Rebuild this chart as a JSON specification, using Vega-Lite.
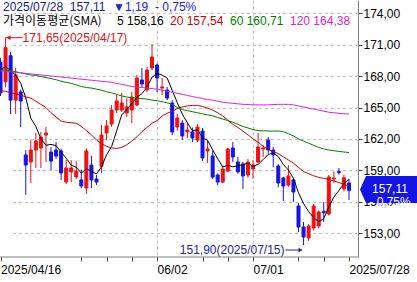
{
"$schema": "https://vega.github.io/schema/vega-lite/v6.json",
"width": 358,
"height": 257,
"autosize": {"type": "none"},
"padding": {"left": 0, "top": 0, "right": 59, "bottom": 25},
"background": "#ffffff",
"datasets": {
"k": [
{"d":"2025-04-16","o":169.3,"h":169.7,"l":166.1,"c":166.4,"m5":168.6,"m20":166.6,"m60":168.6,"m120":168.5},
{"d":"2025-04-17","o":167.46,"h":171.65,"l":166.9,"c":170.7,"m5":168.9,"m20":166.55,"m60":168.55,"m120":168.45},
{"d":"2025-04-18","o":169.93,"h":170.3,"l":164.38,"c":165.71,"m5":168.5,"m20":166.4,"m60":168.5,"m120":168.4},
{"d":"2025-04-21","o":165.71,"h":168.76,"l":164.4,"c":168.1,"m5":168.1,"m20":166.3,"m60":168.4,"m120":168.35},
{"d":"2025-04-22","o":166.48,"h":166.7,"l":163.14,"c":165.62,"m5":167.31,"m20":166.2,"m60":168.3,"m120":168.3},
{"d":"2025-04-23","o":160.48,"h":160.95,"l":156.67,"c":159.52,"m5":165.93,"m20":166.0,"m60":168.2,"m120":168.25},
{"d":"2025-04-24","o":159.81,"h":161.9,"l":157.8,"c":160.95,"m5":163.98,"m20":165.9,"m60":168.1,"m120":168.2},
{"d":"2025-04-25","o":160.95,"h":162.57,"l":159.24,"c":161.81,"m5":163.2,"m20":165.6,"m60":168.05,"m120":168.15},
{"d":"2025-04-28","o":161.14,"h":162.67,"l":159.24,"c":162.19,"m5":162.02,"m20":165.3,"m60":167.95,"m120":168.1},
{"d":"2025-04-29","o":162.38,"h":163.14,"l":159.81,"c":162.57,"m5":161.41,"m20":165.0,"m60":167.85,"m120":168.05},
{"d":"2025-04-30","o":160.76,"h":161.24,"l":159.05,"c":159.9,"m5":161.48,"m20":164.5,"m60":167.75,"m120":168.0},
{"d":"2025-05-01","o":160.95,"h":161.7,"l":160.1,"c":160.38,"m5":161.37,"m20":164.1,"m60":167.65,"m120":167.95},
{"d":"2025-05-02","o":160.86,"h":161.1,"l":158.1,"c":158.76,"m5":160.76,"m20":163.7,"m60":167.5,"m120":167.9},
{"d":"2025-05-07","o":157.9,"h":160.0,"l":157.7,"c":159.24,"m5":160.17,"m20":163.6,"m60":167.4,"m120":167.85},
{"d":"2025-05-08","o":158.86,"h":160.0,"l":157.9,"c":159.24,"m5":159.5,"m20":163.55,"m60":167.3,"m120":167.8},
{"d":"2025-05-09","o":158.38,"h":159.9,"l":158.2,"c":158.95,"m5":159.31,"m20":163.5,"m60":167.15,"m120":167.75},
{"d":"2025-05-12","o":158.1,"h":159.1,"l":157.3,"c":157.52,"m5":158.74,"m20":163.2,"m60":167.0,"m120":167.7},
{"d":"2025-05-13","o":157.33,"h":161.1,"l":156.76,"c":160.86,"m5":159.16,"m20":162.8,"m60":166.9,"m120":167.65},
{"d":"2025-05-14","o":159.52,"h":160.4,"l":157.33,"c":158.1,"m5":158.93,"m20":162.4,"m60":166.85,"m120":167.6},
{"d":"2025-05-15","o":158.19,"h":158.57,"l":157.62,"c":157.9,"m5":158.67,"m20":161.9,"m60":166.75,"m120":167.55},
{"d":"2025-05-16","o":159.4,"h":163.33,"l":158.76,"c":162.38,"m5":159.35,"m20":161.55,"m60":166.65,"m120":167.5},
{"d":"2025-05-19","o":162.57,"h":163.81,"l":161.9,"c":163.24,"m5":160.5,"m20":161.3,"m60":166.5,"m120":167.45},
{"d":"2025-05-20","o":163.43,"h":165.24,"l":163.14,"c":164.76,"m5":161.28,"m20":161.15,"m60":166.4,"m120":167.4},
{"d":"2025-05-21","o":164.76,"h":166.19,"l":164.48,"c":165.62,"m5":162.78,"m20":161.1,"m60":166.25,"m120":167.3},
{"d":"2025-05-22","o":164.76,"h":166.38,"l":164.57,"c":165.43,"m5":164.29,"m20":161.2,"m60":166.1,"m120":167.2},
{"d":"2025-05-23","o":164.48,"h":165.9,"l":164.1,"c":165.05,"m5":164.82,"m20":161.45,"m60":166.0,"m120":167.1},
{"d":"2025-05-26","o":164.76,"h":166.48,"l":163.52,"c":166.0,"m5":165.37,"m20":161.8,"m60":165.95,"m120":167.0},
{"d":"2025-05-27","o":165.24,"h":168.1,"l":165.14,"c":167.81,"m5":165.98,"m20":162.2,"m60":165.9,"m120":166.95},
{"d":"2025-05-28","o":167.62,"h":168.76,"l":166.95,"c":167.24,"m5":166.31,"m20":162.7,"m60":165.85,"m120":166.9},
{"d":"2025-05-29","o":166.67,"h":168.86,"l":166.48,"c":168.57,"m5":166.93,"m20":163.1,"m60":165.8,"m120":166.85},
{"d":"2025-05-30","o":168.76,"h":171.05,"l":168.57,"c":169.81,"m5":167.89,"m20":163.5,"m60":165.7,"m120":166.8},
{"d":"2025-06-02","o":169.05,"h":169.2,"l":166.48,"c":167.81,"m5":168.25,"m20":163.75,"m60":165.65,"m120":166.75},
{"d":"2025-06-04","o":166.86,"h":167.81,"l":166.19,"c":166.95,"m5":168.08,"m20":164.2,"m60":165.55,"m120":166.65},
{"d":"2025-06-05","o":166.67,"h":166.95,"l":165.7,"c":165.9,"m5":167.81,"m20":164.45,"m60":165.45,"m120":166.55},
{"d":"2025-06-09","o":165.43,"h":165.7,"l":162.38,"c":162.67,"m5":166.63,"m20":164.65,"m60":165.3,"m120":166.45},
{"d":"2025-06-10","o":163.14,"h":164.4,"l":162.8,"c":164.0,"m5":165.47,"m20":164.9,"m60":165.0,"m120":166.35},
{"d":"2025-06-11","o":163.52,"h":163.8,"l":161.9,"c":162.29,"m5":164.36,"m20":165.05,"m60":164.8,"m120":166.25},
{"d":"2025-06-12","o":162.67,"h":163.52,"l":162.1,"c":162.86,"m5":163.54,"m20":165.15,"m60":164.7,"m120":166.15},
{"d":"2025-06-13","o":162.67,"h":163.1,"l":161.7,"c":162.1,"m5":162.78,"m20":165.2,"m60":164.6,"m120":166.05},
{"d":"2025-06-16","o":161.9,"h":163.43,"l":161.7,"c":163.14,"m5":162.88,"m20":165.2,"m60":164.5,"m120":165.95},
{"d":"2025-06-17","o":162.76,"h":163.05,"l":159.9,"c":160.19,"m5":162.12,"m20":165.1,"m60":164.4,"m120":165.85},
{"d":"2025-06-18","o":160.86,"h":161.9,"l":159.71,"c":161.05,"m5":161.87,"m20":164.95,"m60":164.3,"m120":165.75},
{"d":"2025-06-19","o":160.38,"h":160.86,"l":158.2,"c":158.38,"m5":160.97,"m20":164.75,"m60":164.2,"m120":165.7},
{"d":"2025-06-20","o":158.57,"h":158.7,"l":157.62,"c":157.9,"m5":160.13,"m20":164.5,"m60":164.05,"m120":165.6},
{"d":"2025-06-23","o":157.9,"h":159.33,"l":157.8,"c":159.14,"m5":159.33,"m20":164.2,"m60":163.9,"m120":165.5},
{"d":"2025-06-24","o":158.95,"h":161.14,"l":158.86,"c":161.05,"m5":159.5,"m20":163.8,"m60":163.75,"m120":165.45},
{"d":"2025-06-25","o":161.14,"h":161.71,"l":159.81,"c":160.29,"m5":159.35,"m20":163.4,"m60":163.6,"m120":165.4},
{"d":"2025-06-26","o":159.81,"h":160.29,"l":158.7,"c":158.86,"m5":159.45,"m20":163.1,"m60":163.4,"m120":165.35},
{"d":"2025-06-27","o":159.62,"h":159.8,"l":157.24,"c":158.48,"m5":159.56,"m20":162.75,"m60":163.2,"m120":165.3},
{"d":"2025-06-30","o":158.57,"h":160.1,"l":158.3,"c":159.81,"m5":159.7,"m20":162.4,"m60":163.05,"m120":165.28},
{"d":"2025-07-01","o":159.14,"h":160.0,"l":158.2,"c":159.52,"m5":159.39,"m20":162.0,"m60":162.9,"m120":165.26},
{"d":"2025-07-02","o":159.81,"h":162.57,"l":159.7,"c":161.24,"m5":159.58,"m20":161.7,"m60":162.8,"m120":165.25},
{"d":"2025-07-03","o":161.05,"h":161.43,"l":160.29,"c":161.14,"m5":160.04,"m20":161.3,"m60":162.78,"m120":165.25},
{"d":"2025-07-04","o":161.9,"h":162.19,"l":160.6,"c":160.95,"m5":160.53,"m20":161.0,"m60":162.76,"m120":165.25},
{"d":"2025-07-07","o":160.95,"h":161.24,"l":159.3,"c":160.48,"m5":160.67,"m20":160.8,"m60":162.76,"m120":165.28},
{"d":"2025-07-08","o":159.43,"h":159.6,"l":157.4,"c":157.81,"m5":160.32,"m20":160.6,"m60":162.76,"m120":165.3},
{"d":"2025-07-09","o":158.29,"h":158.4,"l":156.1,"c":157.52,"m5":159.58,"m20":160.3,"m60":162.7,"m120":165.3},
{"d":"2025-07-10","o":157.62,"h":159.52,"l":157.43,"c":158.48,"m5":159.05,"m20":160.0,"m60":162.5,"m120":165.3},
{"d":"2025-07-11","o":158.1,"h":158.3,"l":156.0,"c":156.95,"m5":158.25,"m20":159.7,"m60":162.3,"m120":165.25},
{"d":"2025-07-14","o":155.62,"h":155.9,"l":153.14,"c":153.62,"m5":156.88,"m20":159.3,"m60":162.0,"m120":165.15},
{"d":"2025-07-15","o":153.62,"h":154.1,"l":151.9,"c":152.67,"m5":155.85,"m20":158.9,"m60":161.8,"m120":165.05},
{"d":"2025-07-16","o":152.57,"h":153.9,"l":152.3,"c":153.71,"m5":155.09,"m20":158.7,"m60":161.6,"m120":164.95},
{"d":"2025-07-17","o":153.52,"h":155.8,"l":153.3,"c":155.62,"m5":154.51,"m20":158.5,"m60":161.4,"m120":164.85},
{"d":"2025-07-18","o":153.71,"h":155.2,"l":153.5,"c":155.05,"m5":154.13,"m20":158.35,"m60":161.2,"m120":164.75},
{"d":"2025-07-21","o":155.1,"h":156.0,"l":154.1,"c":154.98,"m5":154.41,"m20":158.25,"m60":161.05,"m120":164.65},
{"d":"2025-07-22","o":154.86,"h":158.57,"l":154.7,"c":158.38,"m5":155.55,"m20":158.15,"m60":160.95,"m120":164.55},
{"d":"2025-07-23","o":158.2,"h":158.9,"l":157.8,"c":158.29,"m5":156.46,"m20":158.0,"m60":160.88,"m120":164.5},
{"d":"2025-07-24","o":158.9,"h":159.24,"l":158.6,"c":158.8,"m5":157.1,"m20":157.85,"m60":160.82,"m120":164.45},
{"d":"2025-07-25","o":157.24,"h":158.6,"l":157.0,"c":158.3,"m5":157.75,"m20":157.65,"m60":160.76,"m120":164.4},
{"d":"2025-07-28","o":157.81,"h":158.2,"l":156.19,"c":157.11,"m5":158.16,"m20":157.54,"m60":160.71,"m120":164.38}
],
"ann": [
{"k":"hi","d":"2025-04-17","p":171.65,"t":"171,65(2025/04/17)"},
{"k":"lo","d":"2025-07-15","p":151.9,"t":"151,90(2025/07/15)"},
{"k":"last","d":"2025-07-28","p":157.11,"t":"157,11\n- 0,75%"},
{"k":"head1","d":"2025-04-16","p":175.24,"t":"2025/07/28\u00a0\u00a0157,11"},
{"k":"head2","d":"2025-04-16","p":175.24,"t":"▼1,19\u00a0\u00a0-\u00a00,75%"}
]
},
"config": {
"view": {"stroke": null},
"font": "Liberation Sans",
"locale": {"number": {"decimal": ",", "thousands": ".", "grouping": [3], "currency": ["", ""]}},
"axis": {"labelFont": "Liberation Sans", "labelFontSize": 12, "labelColor": "#000000", "domainColor": "#808080", "tickColor": "#404040", "gridColor": "#c4c4c4", "gridDash": [3, 3], "gridWidth": 1, "labelOverlap": false}
},
"layer": [
{
"data": {"name": "k"},
"mark": {"type": "rule", "strokeWidth": 1},
"encoding": {
"x": {"field": "d", "type": "ordinal", "scale": {"type": "point", "range": [0.5, 349], "padding": 0},
"axis": {"values": ["2025-04-16","2025-05-12","2025-05-19","2025-05-26","2025-06-02","2025-06-17","2025-06-24","2025-07-01","2025-07-14","2025-07-21","2025-07-28"],
"labelExpr": "datum.value == '2025-04-16' ? '2025/04/16' : datum.value == '2025-06-02' ? '06/02' : datum.value == '2025-07-01' ? '07/01' : datum.value == '2025-07-28' ? '2025/07/28' : ''",
"labelAlign": "left", "labelPadding": 3, "tickSize": 4, "domain": false, "grid": true,
"gridOpacity": {"condition": {"test": "datum.value == '2025-06-02' || datum.value == '2025-07-01'", "value": 1}, "value": 0},
"labelOverlap": false, "labelBound": false, "labelFlush": false, "labelAngle": 0, "title": null}},
"y": {"field": "l", "type": "quantitative", "scale": {"domain": [150.76, 175.24], "zero": false, "nice": false},
"axis": {"orient": "right", "values": [153,156,159,162,165,168,171,174], "format": ".2f", "tickSize": 4, "grid": true, "labelPadding": 1, "labelOverlap": false, "labelFlush": false, "title": null}},
"y2": {"field": "h"},
"color": {"condition": {"test": "datum.c > datum.o", "value": "#f01010"}, "value": "#1414e6"}
}
},
{
"data": {"name": "k"},
"mark": {"type": "bar", "size": 3, "strokeWidth": 1},
"encoding": {
"x": {"field": "d", "type": "ordinal", "axis": {"title": null}},
"y": {"field": "o", "type": "quantitative", "scale": {"domain": [150.76, 175.24], "zero": false, "nice": false}, "axis": {"orient": "right", "values": [153,156,159,162,165,168,171,174], "format": ".2f", "tickSize": 4, "grid": true, "labelPadding": 1, "labelOverlap": false, "labelFlush": false, "title": null}},
"y2": {"field": "c"},
"color": {"condition": {"test": "datum.c > datum.o", "value": "#f01010"}, "value": "#1414e6"},
"stroke": {"condition": {"test": "datum.c > datum.o", "value": "#f01010"}, "value": "#1414e6"}
}
},
{
"data": {"name": "k"},
"transform": [{"fold": ["m5", "m20", "m60", "m120"], "as": ["ma", "v"]}],
"mark": {"type": "line", "strokeWidth": 1},
"encoding": {
"x": {"field": "d", "type": "ordinal", "axis": {"title": null}},
"y": {"field": "v", "type": "quantitative", "scale": {"domain": [150.76, 175.24], "zero": false, "nice": false}, "axis": {"orient": "right", "values": [153,156,159,162,165,168,171,174], "format": ".2f", "tickSize": 4, "grid": true, "labelPadding": 1, "labelOverlap": false, "labelFlush": false, "title": null}},
"color": {"field": "ma", "type": "nominal",
"scale": {"domain": ["m5", "m20", "m60", "m120"], "range": ["#000000", "#d00000", "#008000", "#dd22dd"]},
"legend": {"orient": "none", "legendX": 3, "legendY": 15, "direction": "horizontal",
"title": "가격이동평균(SMA)", "titleOrient": "left", "titleFont": "Noto Sans CJK KR", "titleFontSize": 12, "titleFontWeight": "normal", "titleColor": "#000000", "titlePadding": 9,
"labelFont": "Liberation Sans", "labelFontSize": 12, "labelOffset": -6, "columnPadding": 0,
"symbolSize": 0, "symbolStrokeWidth": 0, "symbolOpacity": 0, "padding": 0,
"labelExpr": "datum.value == 'm5' ? '5 158,16' : datum.value == 'm20' ? '20 157,54' : datum.value == 'm60' ? '60 160,71' : '120 164,38'",
"encode": {"labels": {"update": {"fill": {"signal": "scale('color', datum.value)"}}}}}}
}
},
{
"data": {"name": "ann"},
"transform": [{"filter": "datum.k == 'hi'"}],
"layer": [
{"mark": {"type": "rule", "color": "#e01010", "x2Offset": 17}, "encoding": {"x": {"field": "d", "type": "ordinal", "axis": {"title": null}}, "x2": {"field": "d"}, "y": {"field": "p", "type": "quantitative", "scale": {"domain": [150.76, 175.24], "zero": false, "nice": false}, "axis": {"orient": "right", "values": [153,156,159,162,165,168,171,174], "format": ".2f", "tickSize": 4, "grid": true, "labelPadding": 1, "labelOverlap": false, "labelFlush": false, "title": null}}}},
{"mark": {"type": "point", "shape": "triangle-left", "filled": true, "size": 22, "color": "#e01010", "opacity": 1, "xOffset": 3}, "encoding": {"x": {"field": "d", "type": "ordinal", "axis": {"title": null}}, "y": {"field": "p", "type": "quantitative", "scale": {"domain": [150.76, 175.24], "zero": false, "nice": false}, "axis": {"orient": "right", "values": [153,156,159,162,165,168,171,174], "format": ".2f", "tickSize": 4, "grid": true, "labelPadding": 1, "labelOverlap": false, "labelFlush": false, "title": null}}}},
{"mark": {"type": "text", "align": "left", "baseline": "middle", "dx": 17, "color": "#e01010", "fontSize": 12, "font": "Liberation Sans"}, "encoding": {"x": {"field": "d", "type": "ordinal", "axis": {"title": null}}, "y": {"field": "p", "type": "quantitative", "scale": {"domain": [150.76, 175.24], "zero": false, "nice": false}, "axis": {"orient": "right", "values": [153,156,159,162,165,168,171,174], "format": ".2f", "tickSize": 4, "grid": true, "labelPadding": 1, "labelOverlap": false, "labelFlush": false, "title": null}}, "text": {"field": "t"}}}
]
},
{
"data": {"name": "ann"},
"transform": [{"filter": "datum.k == 'lo'"}],
"layer": [
{"mark": {"type": "rule", "color": "#2424a0", "xOffset": -18, "x2Offset": -2, "yOffset": 5}, "encoding": {"x": {"field": "d", "type": "ordinal", "axis": {"title": null}}, "x2": {"field": "d"}, "y": {"field": "p", "type": "quantitative", "scale": {"domain": [150.76, 175.24], "zero": false, "nice": false}, "axis": {"orient": "right", "values": [153,156,159,162,165,168,171,174], "format": ".2f", "tickSize": 4, "grid": true, "labelPadding": 1, "labelOverlap": false, "labelFlush": false, "title": null}}}},
{"mark": {"type": "point", "shape": "triangle-right", "filled": true, "size": 22, "color": "#2424a0", "opacity": 1, "xOffset": -3, "yOffset": 5}, "encoding": {"x": {"field": "d", "type": "ordinal", "axis": {"title": null}}, "y": {"field": "p", "type": "quantitative", "scale": {"domain": [150.76, 175.24], "zero": false, "nice": false}, "axis": {"orient": "right", "values": [153,156,159,162,165,168,171,174], "format": ".2f", "tickSize": 4, "grid": true, "labelPadding": 1, "labelOverlap": false, "labelFlush": false, "title": null}}}},
{"mark": {"type": "text", "align": "right", "baseline": "middle", "dx": -19, "dy": 5, "color": "#2424a0", "fontSize": 12, "font": "Liberation Sans"}, "encoding": {"x": {"field": "d", "type": "ordinal", "axis": {"title": null}}, "y": {"field": "p", "type": "quantitative", "scale": {"domain": [150.76, 175.24], "zero": false, "nice": false}, "axis": {"orient": "right", "values": [153,156,159,162,165,168,171,174], "format": ".2f", "tickSize": 4, "grid": true, "labelPadding": 1, "labelOverlap": false, "labelFlush": false, "title": null}}, "text": {"field": "t"}}}
]
},
{
"data": {"name": "ann"},
"transform": [{"filter": "datum.k == 'last'"}],
"layer": [
{"mark": {"type": "point", "shape": "M -1 0 L -0.79 -0.474 L 1 -0.474 L 1 0.474 L -0.79 0.474 Z", "filled": true, "size": 3249, "color": "#1414e6", "opacity": 1, "strokeWidth": 0, "xOffset": 39.5, "yOffset": -0.8}, "encoding": {"x": {"field": "d", "type": "ordinal", "axis": {"title": null}}, "y": {"field": "p", "type": "quantitative", "scale": {"domain": [150.76, 175.24], "zero": false, "nice": false}, "axis": {"orient": "right", "values": [153,156,159,162,165,168,171,174], "format": ".2f", "tickSize": 4, "grid": true, "labelPadding": 1, "labelOverlap": false, "labelFlush": false, "title": null}}}},
{"mark": {"type": "text", "align": "center", "baseline": "middle", "lineBreak": "\n", "lineHeight": 13, "xOffset": 41, "yOffset": -1.5, "color": "#ffffff", "fontSize": 12, "font": "Liberation Sans"}, "encoding": {"x": {"field": "d", "type": "ordinal", "axis": {"title": null}}, "y": {"field": "p", "type": "quantitative", "scale": {"domain": [150.76, 175.24], "zero": false, "nice": false}, "axis": {"orient": "right", "values": [153,156,159,162,165,168,171,174], "format": ".2f", "tickSize": 4, "grid": true, "labelPadding": 1, "labelOverlap": false, "labelFlush": false, "title": null}}, "text": {"field": "t"}}}
]
},
{
"data": {"name": "ann"},
"transform": [{"filter": "datum.k == 'head1'"}],
"mark": {"type": "text", "align": "left", "baseline": "top", "dx": 2.5, "dy": 1.5, "color": "#1a1a8a", "fontSize": 12, "font": "Liberation Sans"},
"encoding": {"x": {"field": "d", "type": "ordinal", "axis": {"title": null}}, "y": {"field": "p", "type": "quantitative", "scale": {"domain": [150.76, 175.24], "zero": false, "nice": false}, "axis": {"orient": "right", "values": [153,156,159,162,165,168,171,174], "format": ".2f", "tickSize": 4, "grid": true, "labelPadding": 1, "labelOverlap": false, "labelFlush": false, "title": null}}, "text": {"field": "t"}}
},
{
"data": {"name": "ann"},
"transform": [{"filter": "datum.k == 'head2'"}],
"mark": {"type": "text", "align": "left", "baseline": "top", "dx": 112.5, "dy": 1.5, "color": "#2020e0", "fontSize": 12, "font": "Liberation Sans"},
"encoding": {"x": {"field": "d", "type": "ordinal", "axis": {"title": null}}, "y": {"field": "p", "type": "quantitative", "scale": {"domain": [150.76, 175.24], "zero": false, "nice": false}, "axis": {"orient": "right", "values": [153,156,159,162,165,168,171,174], "format": ".2f", "tickSize": 4, "grid": true, "labelPadding": 1, "labelOverlap": false, "labelFlush": false, "title": null}}, "text": {"field": "t"}}
},
{
"data": {"values": [{}]},
"mark": {"type": "rule", "color": "#808080", "strokeWidth": 1},
"encoding": {"y": {"datum": 150.76, "type": "quantitative", "scale": {"domain": [150.76, 175.24], "zero": false, "nice": false}, "axis": {"orient": "right", "values": [153,156,159,162,165,168,171,174], "format": ".2f", "tickSize": 4, "grid": true, "labelPadding": 1, "labelOverlap": false, "labelFlush": false, "title": null}}}
}
]
}
